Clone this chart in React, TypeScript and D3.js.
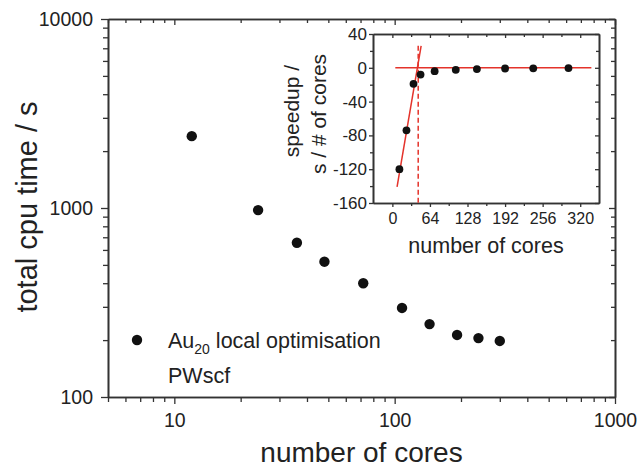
import React, { useEffect, useRef } from "react";
import * as d3 from "d3";

// main panel: total cpu time vs number of cores (log-log)
const cores = [12, 24, 36, 48, 72, 108, 144, 192, 240, 300];
const cpuTime = [2400, 975, 655, 520, 400, 296, 243, 213, 205, 198];

// inset: speedup per core
const speedup = [-120, -74, -19, -8, -4, -2.4, -1.5, -0.8, -0.6, -0.3];

// red guide lines in the inset
const fitLineX = [8, 49];
const fitLineY = [-141, 26];
const zeroLineX = [5, 339];
const crossCores = 44;
const crossLineY = [26, -160];

const mainXTicks = [10, 100, 1000];
const mainYTicks = [100, 1000, 10000];
const insetXTicks = [0, 64, 128, 192, 256, 320];
const insetYTicks = [-160, -120, -80, -40, 0, 40];

const FONT = "'Liberation Sans', Arial, Helvetica, sans-serif";
const AXIS = "#333";
const RED = "#e4332b";

const App = () => {
  const ref: any = useRef(null);
  const width = 640;
  const height = 470;

  useEffect(() => {
    const svg = d3.select(ref.current);
    svg.selectAll("*").remove();

    const x = d3.scaleLog().domain([5, 1000]).range([108, 615]);
    const y = d3.scaleLog().domain([100, 10000]).range([397, 19]);

    const minorX = x.ticks().filter((d) => !mainXTicks.includes(d));
    const minorY = y.ticks().filter((d) => !mainYTicks.includes(d));

    const style = (g: any, fontSize: number) => {
      g.select(".domain").attr("stroke", AXIS).attr("stroke-width", 1.6);
      g.selectAll(".tick line").attr("stroke", AXIS).attr("stroke-width", 1.3);
      g.selectAll("text")
        .attr("fill", "#222")
        .style("font-family", FONT)
        .style("font-size", `${fontSize}px`);
    };

    const [x0, x1] = x.range();
    const [y0, y1] = y.range();

    // bottom
    svg.append("g").attr("transform", `translate(0,${y0})`)
      .call(d3.axisBottom(x).tickValues(minorX).tickSize(5).tickFormat(() => "").tickSizeOuter(0))
      .call((g: any) => style(g, 19.5));
    svg.append("g").attr("transform", `translate(0,${y0})`)
      .call(d3.axisBottom(x).tickValues(mainXTicks).tickSize(7).tickPadding(9).tickFormat(d3.format("d")).tickSizeOuter(0))
      .call((g: any) => style(g, 19.5));
    // top (mirrored, inward)
    svg.append("g").attr("transform", `translate(0,${y1})`)
      .call(d3.axisTop(x).tickValues(minorX).tickSize(-4).tickFormat(() => "").tickSizeOuter(0))
      .call((g: any) => style(g, 19.5));
    svg.append("g").attr("transform", `translate(0,${y1})`)
      .call(d3.axisTop(x).tickValues(mainXTicks).tickSize(-6).tickFormat(() => "").tickSizeOuter(0))
      .call((g: any) => style(g, 19.5));
    // left
    svg.append("g").attr("transform", `translate(${x0},0)`)
      .call(d3.axisLeft(y).tickValues(minorY).tickSize(5).tickFormat(() => "").tickSizeOuter(0))
      .call((g: any) => style(g, 19.5));
    svg.append("g").attr("transform", `translate(${x0},0)`)
      .call(d3.axisLeft(y).tickValues(mainYTicks).tickSize(7).tickPadding(8).tickFormat(d3.format("d")).tickSizeOuter(0))
      .call((g: any) => style(g, 19.5));
    // right (mirrored, inward)
    svg.append("g").attr("transform", `translate(${x1},0)`)
      .call(d3.axisRight(y).tickValues(minorY).tickSize(-4).tickFormat(() => "").tickSizeOuter(0))
      .call((g: any) => style(g, 19.5));
    svg.append("g").attr("transform", `translate(${x1},0)`)
      .call(d3.axisRight(y).tickValues(mainYTicks).tickSize(-6).tickFormat(() => "").tickSizeOuter(0))
      .call((g: any) => style(g, 19.5));

    // main points
    svg.append("g")
      .selectAll("circle")
      .data(cores)
      .join("circle")
      .attr("cx", (d) => x(d))
      .attr("cy", (d, i) => y(cpuTime[i]))
      .attr("r", 5.2)
      .attr("fill", "#111");

    // axis titles
    svg.append("text")
      .attr("transform", `translate(37,207) rotate(-90)`)
      .attr("text-anchor", "middle")
      .attr("fill", "#222")
      .style("font-family", FONT)
      .style("font-size", "29px")
      .text("total cpu time / s");
    svg.append("text")
      .attr("x", (x0 + x1) / 2)
      .attr("y", 462)
      .attr("text-anchor", "middle")
      .attr("fill", "#222")
      .style("font-family", FONT)
      .style("font-size", "28px")
      .text("number of cores");

    // legend
    const legendSize = 21.5;
    svg.append("circle").attr("cx", 137).attr("cy", 340).attr("r", 5.2).attr("fill", "#111");
    const leg = svg.append("text")
      .attr("x", 168)
      .attr("y", 348)
      .attr("fill", "#222")
      .style("font-family", FONT)
      .style("font-size", `${legendSize}px`);
    leg.append("tspan").text("Au");
    leg.append("tspan").attr("dy", 6).style("font-size", "14px").text("20");
    leg.append("tspan").attr("dy", -6).text(" local optimisation");
    svg.append("text")
      .attr("x", 168)
      .attr("y", 383)
      .attr("fill", "#222")
      .style("font-family", FONT)
      .style("font-size", `${legendSize}px`)
      .text("PWscf");

    // ---- inset ----
    const xi = d3.scaleLinear().domain([-33, 352]).range([373, 599]);
    const yi = d3.scaleLinear().domain([-160, 40]).range([203, 34]);
    const [ix0, ix1] = xi.range();
    const [iy0, iy1] = yi.range();
    const insetMinorX = insetXTicks.slice(0, -1).map((d) => d + 32);
    const insetMinorY = insetYTicks.slice(0, -1).map((d) => d + 20);

    svg.append("rect")
      .attr("x", ix0)
      .attr("y", iy1)
      .attr("width", ix1 - ix0)
      .attr("height", iy0 - iy1)
      .attr("fill", "#fff");

    svg.append("g").attr("transform", `translate(0,${iy0})`)
      .call(d3.axisBottom(xi).tickValues(insetMinorX).tickSize(3).tickFormat(() => "").tickSizeOuter(0))
      .call((g: any) => style(g, 16));
    svg.append("g").attr("transform", `translate(0,${iy0})`)
      .call(d3.axisBottom(xi).tickValues(insetXTicks).tickSize(4).tickPadding(6).tickFormat(d3.format("d")).tickSizeOuter(0))
      .call((g: any) => style(g, 16));
    svg.append("g").attr("transform", `translate(0,${iy1})`)
      .call(d3.axisTop(xi).tickValues(insetMinorX).tickSize(-3).tickFormat(() => "").tickSizeOuter(0))
      .call((g: any) => style(g, 16));
    svg.append("g").attr("transform", `translate(0,${iy1})`)
      .call(d3.axisTop(xi).tickValues(insetXTicks).tickSize(-4).tickFormat(() => "").tickSizeOuter(0))
      .call((g: any) => style(g, 16));
    svg.append("g").attr("transform", `translate(${ix0},0)`)
      .call(d3.axisLeft(yi).tickValues(insetMinorY).tickSize(3).tickFormat(() => "").tickSizeOuter(0))
      .call((g: any) => style(g, 16));
    svg.append("g").attr("transform", `translate(${ix0},0)`)
      .call(d3.axisLeft(yi).tickValues(insetYTicks).tickSize(4).tickPadding(2).tickFormat(d3.format("d")).tickSizeOuter(0))
      .call((g: any) => style(g, 17));
    svg.append("g").attr("transform", `translate(${ix1},0)`)
      .call(d3.axisRight(yi).tickValues(insetMinorY).tickSize(-3).tickFormat(() => "").tickSizeOuter(0))
      .call((g: any) => style(g, 16));
    svg.append("g").attr("transform", `translate(${ix1},0)`)
      .call(d3.axisRight(yi).tickValues(insetYTicks).tickSize(-4).tickFormat(() => "").tickSizeOuter(0))
      .call((g: any) => style(g, 16));

    // use hyphen minus like the original
    svg.selectAll("text").each(function (this: any) {
      const t = d3.select(this);
      if (!t.select("tspan").empty()) return;
      t.text(t.text().replace("\u2212", "-"));
    });

    const line = d3.line<[number, number]>()
      .x((d) => xi(d[0]))
      .y((d) => yi(d[1]));

    const ig = svg.append("g");
    ig.append("path")
      .datum(zeroLineX.map((d) => [d, 0] as [number, number]))
      .attr("d", line)
      .attr("fill", "none")
      .attr("stroke", RED)
      .attr("stroke-width", 1.5);
    ig.append("path")
      .datum(fitLineX.map((d, i) => [d, fitLineY[i]] as [number, number]))
      .attr("d", line)
      .attr("fill", "none")
      .attr("stroke", RED)
      .attr("stroke-width", 1.5);
    ig.append("path")
      .datum(crossLineY.map((d) => [crossCores, d] as [number, number]))
      .attr("d", line)
      .attr("fill", "none")
      .attr("stroke", RED)
      .attr("stroke-width", 1.5)
      .attr("stroke-dasharray", "5,3");

    ig.selectAll("circle")
      .data(cores)
      .join("circle")
      .attr("cx", (d) => xi(d))
      .attr("cy", (d, i) => yi(speedup[i]))
      .attr("r", 3.9)
      .attr("fill", "#111");

    const insetLabel = (txt: string, tx: number, ty: number) =>
      svg.append("text")
        .attr("transform", `translate(${tx},${ty}) rotate(-90)`)
        .attr("text-anchor", "middle")
        .attr("fill", "#222")
        .style("font-family", FONT)
        .style("font-size", "21px")
        .text(txt);
    insetLabel("speedup /", 299, 111);
    insetLabel("s / # of cores", 326, 114);

    svg.append("text")
      .attr("x", 486)
      .attr("y", 253)
      .attr("text-anchor", "middle")
      .attr("fill", "#222")
      .style("font-family", FONT)
      .style("font-size", "21.5px")
      .text("number of cores");
  }, []);

  return (
    <div style={{ position: "absolute", left: 0, top: 0 }}>
      <svg ref={ref} width={width} height={height} style={{ display: "block", background: "#fff" }} />
    </div>
  );
};

export default App;
